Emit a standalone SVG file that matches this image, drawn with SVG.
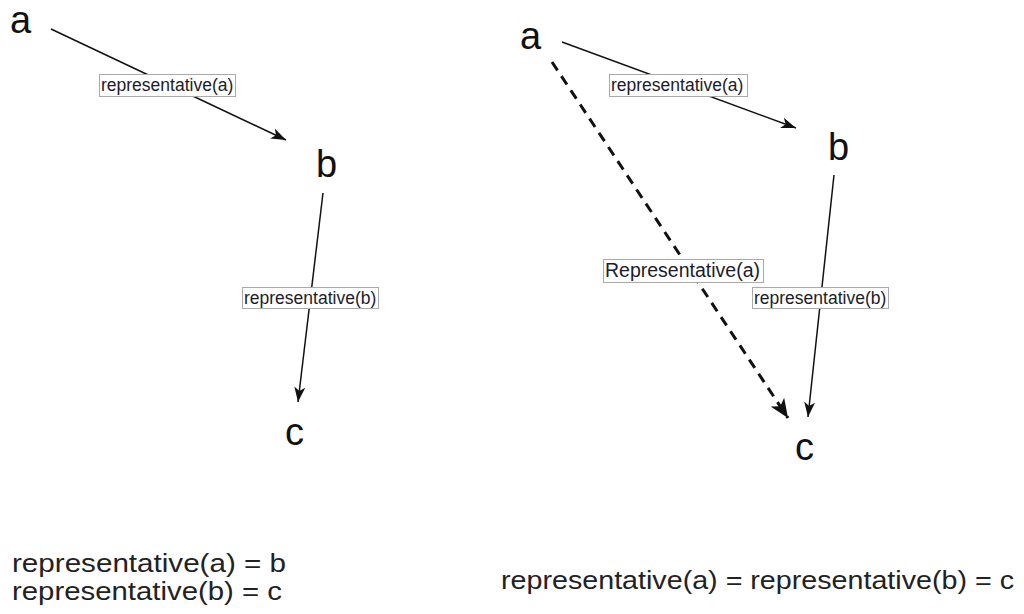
<svg xmlns="http://www.w3.org/2000/svg" width="1024" height="614" viewBox="0 0 1024 614">
<style>
.node{font-family:"Liberation Sans",Arial,sans-serif;font-size:38px;fill:#111}
.lbl{font-family:"Liberation Sans",Arial,sans-serif;font-size:17.5px;fill:#1c1c2a}
.box{fill:#fff;stroke:#aaa;stroke-width:1}
.edge{stroke:#111;stroke-width:1.5;fill:none}
.dash{stroke:#111;stroke-width:3;fill:none;stroke-dasharray:10 7}
.eq{font-family:"Liberation Sans",Arial,sans-serif;font-size:26px;fill:#222}
</style>
<defs>
<marker id="ah" markerUnits="userSpaceOnUse" markerWidth="16" markerHeight="12" refX="15" refY="5.5" orient="auto" viewBox="0 0 16 11">
<path d="M0,0 L15,5.5 L0,11 L4,5.5 z" fill="#111"/>
</marker>
<marker id="ahb" markerUnits="userSpaceOnUse" markerWidth="20" markerHeight="17" refX="19" refY="8" orient="auto" viewBox="0 0 20 16">
<path d="M0,0 L19,8 L0,16 L5,8 z" fill="#111"/>
</marker>
</defs>
<g id="connectors">
<line class="edge" x1="51" y1="29" x2="286" y2="140" marker-end="url(#ah)"/>
<line class="edge" x1="323" y1="193" x2="298" y2="402" marker-end="url(#ah)"/>
<line class="edge" x1="562" y1="42" x2="796" y2="128" marker-end="url(#ah)"/>
<line class="edge" x1="834" y1="175" x2="808" y2="417" marker-end="url(#ah)"/>
<line class="dash" x1="552" y1="62" x2="788" y2="418" marker-end="url(#ahb)"/>
</g>
<g id="labels">
<rect class="box" x="99.5" y="74.5" width="136" height="22"/>
<text class="lbl" x="101" y="91">representative(a)</text>
<rect class="box" x="242.5" y="287.5" width="136" height="21"/>
<text class="lbl" x="244" y="304">representative(b)</text>
<rect class="box" x="609.5" y="74.5" width="138" height="22"/>
<text class="lbl" x="611" y="91">representative(a)</text>
<rect class="box" x="752.5" y="287.5" width="136" height="21"/>
<text class="lbl" x="754" y="304">representative(b)</text>
<rect class="box" x="603.5" y="259.5" width="160" height="23"/>
<text class="lbl" x="605" y="277" style="font-size:19.5px">Representative(a)</text>
</g>
<g id="node-a1"><text class="node" x="10" y="33">a</text></g>
<g id="node-b1"><text class="node" x="316" y="177">b</text></g>
<g id="node-c1"><text class="node" x="285" y="445">c</text></g>
<g id="node-a2"><text class="node" x="520" y="49">a</text></g>
<g id="node-b2"><text class="node" x="828" y="160">b</text></g>
<g id="node-c2"><text class="node" x="795" y="460">c</text></g>
<g id="equations">
<text class="eq" x="12" y="572" textLength="274" lengthAdjust="spacingAndGlyphs">representative(a) = b</text>
<text class="eq" x="12" y="600" textLength="270" lengthAdjust="spacingAndGlyphs">representative(b) = c</text>
<text class="eq" x="501" y="589" textLength="513" lengthAdjust="spacingAndGlyphs">representative(a) = representative(b) = c</text>
</g>
</svg>
